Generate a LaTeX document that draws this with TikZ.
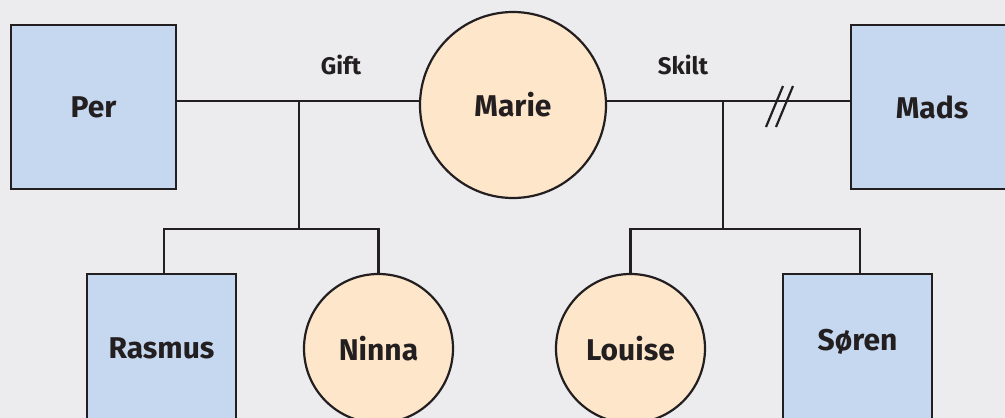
\documentclass[tikz,border=0pt]{standalone}
\usepackage{fontspec}
\setmainfont{Fira Sans}
\definecolor{bgc}{HTML}{ECECEE}
\definecolor{boxc}{HTML}{C5D8EF}
\definecolor{circc}{HTML}{FDE6CA}
\definecolor{inkc}{HTML}{231F20}
\begin{document}
\begin{tikzpicture}[x=1pt,y=-1pt,
  namefont/.style={font=\fontsize{30}{32}\selectfont\bfseries,text=inkc},
  male/.style={draw=inkc,line width=2.2pt,fill=boxc,rectangle,inner sep=0pt,
    minimum width=#1,namefont},
  female/.style={draw=inkc,line width=2.2pt,fill=circc,circle,inner sep=0pt,
    minimum size=#1,namefont},
  rel/.style={font=\fontsize{24}{26}\selectfont\bfseries,text=inkc},
  link/.style={draw=inkc,line width=2.2pt}]
\fill[bgc] (0,0) rectangle (1005,418);
\useasboundingbox (0,0) rectangle (1005,418);
% nodes
\node[male=165, minimum height=164] (per) at (93.5,107) {Per};
\node[female=186] (marie) at (513,105) {Marie};
\node[male=162, minimum height=164] (mads) at (932,107) {Mads};
\node[male=149, minimum height=148] (rasmus) at (161.5,348) {Rasmus};
\node[female=149] (ninna) at (378.5,348.5) {Ninna};
\node[female=149] (louise) at (630.5,348.5) {Louise};
\node[male=149, minimum height=148, label={[namefont,yshift=6pt]center:Søren}] (soren) at (857.5,348) {};
% labels
\node[rel] (gift) at (341,65) {Gift};
\node[rel] (skilt) at (683,65) {Skilt};
% junctions
\coordinate (gj) at (299,101);
\coordinate (gb) at (299,229);
\coordinate (sj) at (723,101);
\coordinate (sb) at (723,229);
% connectors
\draw[link] (per.east |- gj) -- (gj) -- (marie.west |- gj);
\draw[link] (gj) -- (gb);
\draw[link] ([xshift=2.5pt]rasmus.north) -- ([xshift=2.5pt]rasmus.north |- gb) -- (ninna.north |- gb) -- (ninna.north);
\draw[link] (marie.east |- sj) -- (sj) -- (mads.west |- sj);
\draw[link] (sj) -- (sb);
\draw[link] (louise.north) -- (louise.north |- sb) -- ([xshift=2.5pt]soren.north |- sb) -- ([xshift=2.5pt]soren.north);
% divorce marks
\draw[link] (766,127) -- (783,86);
\draw[link] (776,127) -- (793,86);
\end{tikzpicture}
\end{document}
